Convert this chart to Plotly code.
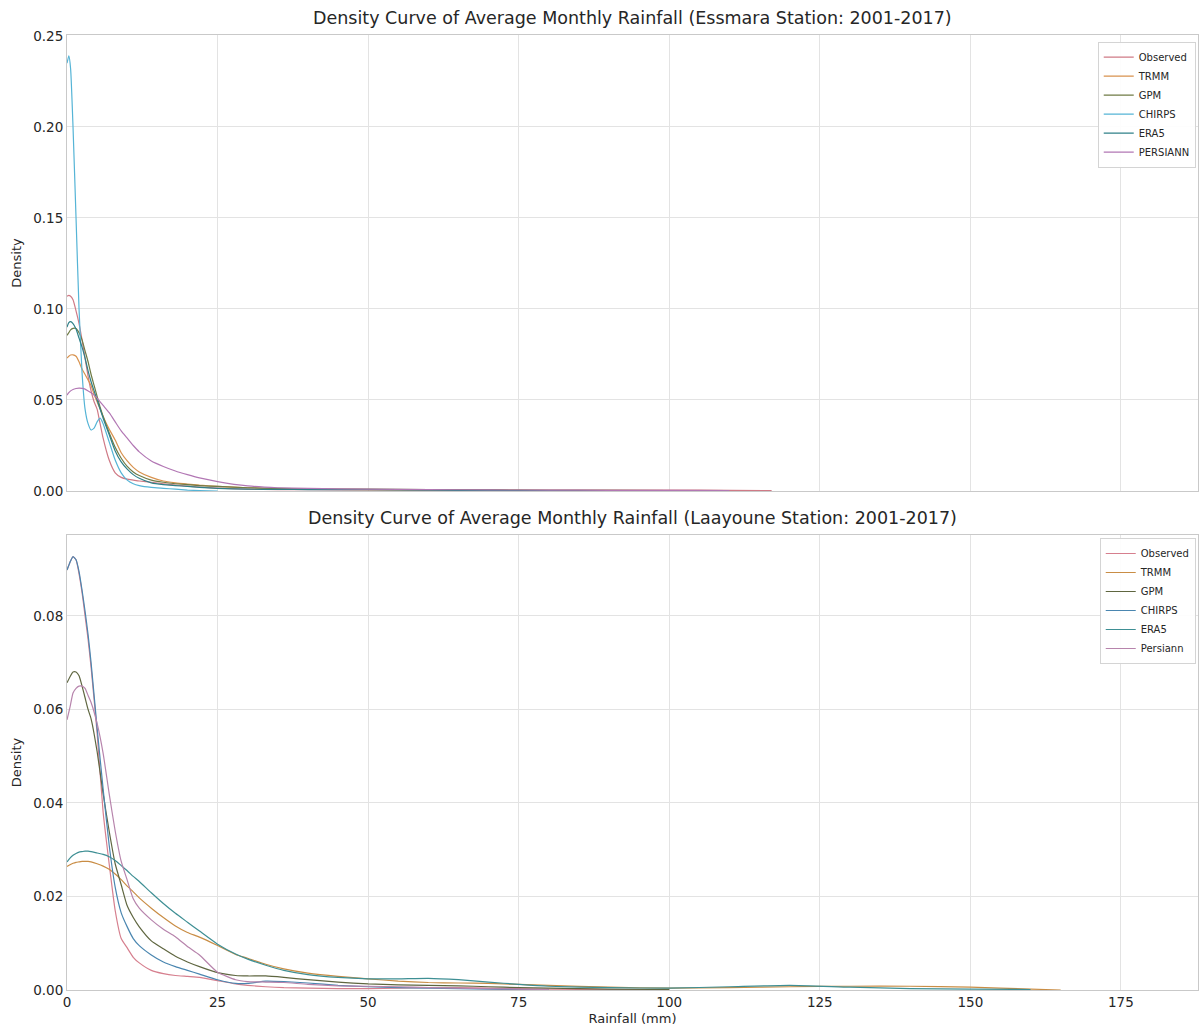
import plotly.graph_objects as go

# ---------------- Data ----------------
top_x = [0, 0.3, 0.6, 1, 1.5, 2, 2.5, 3, 3.5, 4, 4.5, 5, 5.5, 6, 7, 8, 9, 10, 11, 12,
         14, 16, 18, 20, 22, 25, 30, 35, 40, 50, 60, 70, 80, 90, 100, 110, 117]

top_observed = [0.107, 0.1075, 0.107, 0.105, 0.099, 0.092, 0.083, 0.073, 0.063, 0.055, 0.049,
                0.045, 0.037, 0.029, 0.017, 0.010, 0.0075, 0.0065, 0.006, 0.0055,
                0.0048, 0.004, 0.0033, 0.0027, 0.0022, 0.0016, 0.001, 0.0008, 0.0007, 0.0006,
                0.0006, 0.0006, 0.0005, 0.0005, 0.0005, 0.0004, 0.0002]
top_trmm = [0.073, 0.074, 0.0747, 0.0748, 0.074, 0.071, 0.067, 0.064, 0.061, 0.058, 0.053,
            0.049, 0.045, 0.041, 0.034, 0.028, 0.021, 0.0165, 0.013, 0.0105,
            0.0075, 0.0055, 0.0045, 0.0038, 0.0032, 0.0026, 0.0018, 0.0013, 0.001, 0.0008,
            0.0005, 0.0003, 0.0002, 0.0001, None, None, None]
top_gpm = [0.0855, 0.087, 0.0885, 0.0893, 0.0893, 0.087, 0.083, 0.077, 0.071, 0.064, 0.058,
           0.052, 0.046, 0.041, 0.032, 0.024, 0.018, 0.0135, 0.0105, 0.0085,
           0.006, 0.0048, 0.004, 0.0035, 0.003, 0.0025, 0.0018, 0.0014, 0.0012, 0.001,
           0.0008, 0.0006, 0.0004, 0.0003, 0.0002, None, None]
top_chirps = [0.235, 0.239, 0.232, 0.200, 0.150, 0.100, 0.065, 0.045, 0.037, 0.0335, 0.0345,
              0.038, 0.040, 0.037, 0.027, 0.017, 0.010, 0.006, 0.004, 0.003,
              0.002, 0.0015, 0.001, 0.0005, 0.0002, 0.0, None, None, None, None,
              None, None, None, None, None, None, None]
top_era5 = [0.090, 0.0925, 0.093, 0.092, 0.089, 0.084, 0.079, 0.073, 0.066, 0.060, 0.055,
            0.050, 0.045, 0.040, 0.031, 0.022, 0.016, 0.012, 0.009, 0.007,
            0.0045, 0.0035, 0.003, 0.0025, 0.002, 0.0015, 0.001, 0.0009, 0.0008, 0.0007,
            0.0005, 0.0003, 0.0002, 0.0001, 0.0, None, None]
top_persiann = [0.0527, 0.054, 0.055, 0.0558, 0.0563, 0.0565, 0.0564, 0.056, 0.055, 0.054, 0.0527,
                0.051, 0.049, 0.047, 0.043, 0.038, 0.033, 0.029, 0.025, 0.0215,
                0.0165, 0.0135, 0.011, 0.009, 0.0072, 0.0052, 0.0028, 0.0018, 0.0014, 0.001,
                0.0008, 0.0006, 0.0005, 0.0004, 0.0003, 0.0002, None]

bot_x = [0, 0.5, 1, 1.5, 2, 2.5, 3, 3.5, 4, 5, 6, 7, 8, 9, 10, 11, 12, 14, 16, 18, 20, 22,
         25, 28, 30, 33, 36, 40, 45, 50, 55, 60, 65, 70, 75, 80, 90, 100, 110, 120, 130,
         140, 150, 160, 165]

bot_observed = [0.0898, 0.0915, 0.0927, 0.092, 0.089, 0.085, 0.080, 0.075, 0.069, 0.055, 0.038,
                0.027, 0.017, 0.011, 0.009, 0.007, 0.0058, 0.0042, 0.0035, 0.0031, 0.0029, 0.0027,
                0.002, 0.0013, 0.001, 0.0007, 0.0005, 0.0004, 0.0003, 0.0003, 0.0004, 0.0005,
                0.0005, 0.0004, 0.0003, 0.0002, 0.0001, 0.0001, None, None, None,
                None, None, None, None]
bot_trmm = [0.0264, 0.0268, 0.0271, 0.0273, 0.0274, 0.0275, 0.0275, 0.0275, 0.0274, 0.027, 0.0265,
            0.0258, 0.0248, 0.0236, 0.0222, 0.021, 0.0197, 0.0175, 0.0155, 0.0137, 0.0123, 0.0113,
            0.0095, 0.0076, 0.0068, 0.0055, 0.0045, 0.0036, 0.0029, 0.0024, 0.0019, 0.0016,
            0.0015, 0.0014, 0.0012, 0.001, 0.0006, 0.0004, 0.0005, 0.0007, 0.0008,
            0.0008, 0.0006, 0.0002, 0.0]
bot_gpm = [0.0657, 0.067, 0.068, 0.068, 0.0672, 0.065, 0.0625, 0.060, 0.058, 0.051, 0.042,
           0.034, 0.027, 0.0225, 0.018, 0.0155, 0.0135, 0.0105, 0.0088, 0.0072, 0.006, 0.005,
           0.0037, 0.0031, 0.003, 0.003, 0.0027, 0.0022, 0.0017, 0.0013, 0.0011, 0.001,
           0.0009, 0.0007, 0.0005, 0.0004, 0.0002, 0.0001, None, None, None,
           None, None, None, None]
bot_chirps = [0.0898, 0.0915, 0.0927, 0.092, 0.0895, 0.0855, 0.081, 0.076, 0.070, 0.056, 0.043,
              0.031, 0.022, 0.0165, 0.0135, 0.011, 0.0095, 0.0075, 0.006, 0.005, 0.0042, 0.0034,
              0.0022, 0.0014, 0.0014, 0.0019, 0.0018, 0.0015, 0.001, 0.0007, 0.0005, 0.0004,
              0.0003, 0.0002, 0.0001, 0.0001, None, None, None, None, None,
              None, None, None, None]
bot_era5 = [0.0274, 0.0282, 0.0288, 0.0292, 0.0295, 0.0296, 0.0297, 0.0297, 0.0296, 0.0293, 0.029,
            0.0285, 0.0277, 0.0266, 0.0255, 0.0243, 0.0232, 0.0208, 0.0185, 0.0164, 0.0145, 0.0126,
            0.0098, 0.0077, 0.0066, 0.0053, 0.0042, 0.0033, 0.0027, 0.0024, 0.0024, 0.0025,
            0.0022, 0.0017, 0.0012, 0.0008, 0.0005, 0.0004, 0.0007, 0.001, 0.0006,
            0.0003, 0.0002, 0.0001, None]
bot_persiann = [0.0578, 0.0605, 0.0635, 0.0645, 0.065, 0.065, 0.0645, 0.063, 0.0615, 0.057, 0.0506,
                0.042, 0.034, 0.0275, 0.0235, 0.0195, 0.0175, 0.015, 0.013, 0.0114, 0.0093, 0.0075,
                0.0038, 0.0022, 0.0018, 0.0017, 0.0016, 0.0012, 0.0009, 0.0008, 0.0007, 0.0005,
                0.0004, 0.0003, 0.0002, 0.0001, None, None, None, None, None,
                None, None, None, None]

top_names = ["Observed", "TRMM", "GPM", "CHIRPS", "ERA5", "PERSIANN"]
bot_names = ["Observed", "TRMM", "GPM", "CHIRPS", "ERA5", "Persiann"]
top_series = [top_observed, top_trmm, top_gpm, top_chirps, top_era5, top_persiann]
bot_series = [bot_observed, bot_trmm, bot_gpm, bot_chirps, bot_era5, bot_persiann]

x_ticks = [0, 25, 50, 75, 100, 125, 150, 175]
top_y_ticks = [0.00, 0.05, 0.10, 0.15, 0.20, 0.25]
bot_y_ticks = [0.00, 0.02, 0.04, 0.06, 0.08]

top_title = "Density Curve of Average Monthly Rainfall (Essmara Station: 2001-2017)"
bot_title = "Density Curve of Average Monthly Rainfall (Laayoune Station: 2001-2017)"

# ---------------- Styling ----------------
top_colors = ["#cf7a86", "#d8924e", "#6f7b45", "#55b4d6", "#2f8088", "#b277b4"]
bot_colors = ["#d67f8e", "#c98d45", "#5f6640", "#4a86b0", "#3e8f94", "#b784ac"]
FONT = "DejaVu Sans"
TXT = "#262626"
GRID = "#e3e3e3"
FRAME = "#c9c9c9"

fig = go.Figure()
for name, ys, col in zip(top_names, top_series, top_colors):
    fig.add_trace(go.Scatter(x=top_x, y=ys, mode="lines", name=name,
                             line=dict(color=col, width=1.2, shape="spline", smoothing=0.5),
                             xaxis="x", yaxis="y", legend="legend", connectgaps=False))
for name, ys, col in zip(bot_names, bot_series, bot_colors):
    fig.add_trace(go.Scatter(x=bot_x, y=ys, mode="lines", name=name,
                             line=dict(color=col, width=1.2, shape="spline", smoothing=0.5),
                             xaxis="x2", yaxis="y2", legend="legend2", connectgaps=False))

axis_common = dict(showgrid=True, gridcolor=GRID, gridwidth=1, zeroline=False,
                   showline=True, linecolor=FRAME, linewidth=1, mirror=True,
                   ticks="", tickfont=dict(family=FONT, size=13.5, color=TXT))

fig.update_layout(
    width=1202, height=1034,
    margin=dict(l=67, r=4, t=35, b=44),
    paper_bgcolor="white", plot_bgcolor="white",
    font=dict(family=FONT, color=TXT),
    xaxis=dict(domain=[0, 1], range=[0, 187.8], tickvals=x_ticks, showticklabels=False,
               anchor="y", **axis_common),
    yaxis=dict(domain=[0.5225, 1], range=[0, 0.2505], tickvals=top_y_ticks, tickformat=".2f",
               anchor="x", title=dict(text="Density", font=dict(family=FONT, size=13, color=TXT),
                                      standoff=8), **axis_common),
    xaxis2=dict(domain=[0, 1], range=[0, 187.8], tickvals=x_ticks, anchor="y2",
                title=dict(text="Rainfall (mm)", font=dict(family=FONT, size=13, color=TXT),
                           standoff=4), **axis_common),
    yaxis2=dict(domain=[0, 0.4764], range=[0, 0.0973], tickvals=bot_y_ticks, tickformat=".2f",
                anchor="x2", title=dict(text="Density", font=dict(family=FONT, size=13, color=TXT),
                                        standoff=8), **axis_common),
    legend=dict(x=0.998, xanchor="right", y=0.993, yanchor="top",
                bgcolor="rgba(255,255,255,0.9)", bordercolor="#d4d4d4", borderwidth=1,
                font=dict(family=FONT, size=10, color=TXT), itemwidth=30, tracegroupgap=0),
    legend2=dict(x=0.998, xanchor="right", y=0.4733, yanchor="top",
                 bgcolor="rgba(255,255,255,0.9)", bordercolor="#d4d4d4", borderwidth=1,
                 font=dict(family=FONT, size=10, color=TXT), itemwidth=30, tracegroupgap=0),
    annotations=[
        dict(text=top_title, xref="paper", yref="paper", x=0.5, y=1, xanchor="center",
             yanchor="bottom", yshift=5, showarrow=False,
             font=dict(family=FONT, size=17.5, color=TXT)),
        dict(text=bot_title, xref="paper", yref="paper", x=0.5, y=0.4764, xanchor="center",
             yanchor="bottom", yshift=5, showarrow=False,
             font=dict(family=FONT, size=17.5, color=TXT)),
    ],
)

fig.write_html("out.html")
